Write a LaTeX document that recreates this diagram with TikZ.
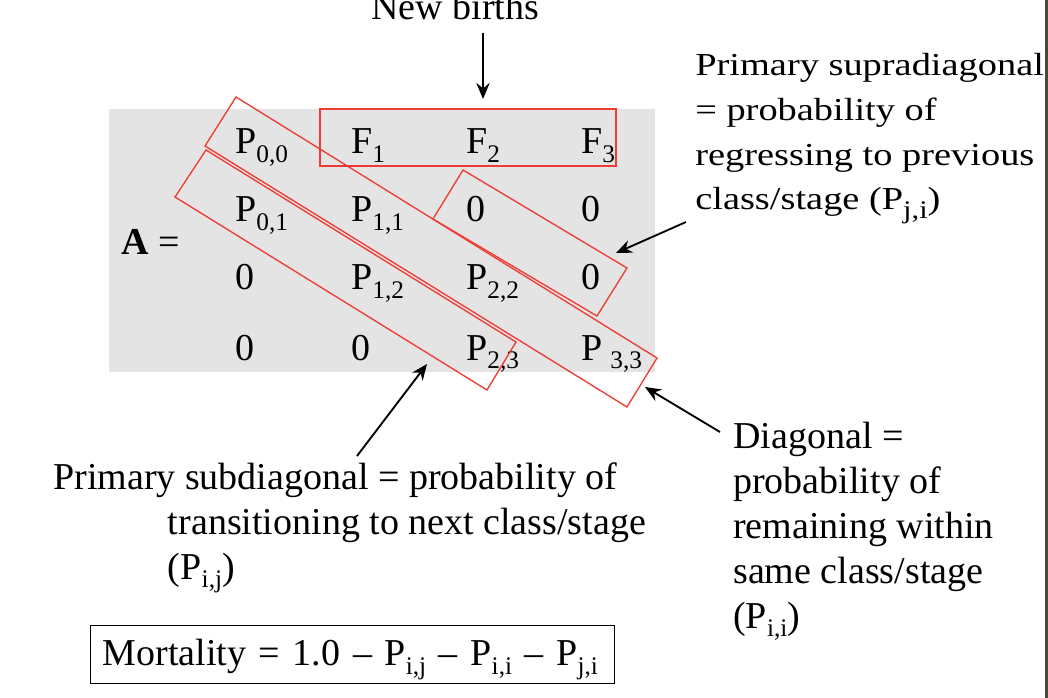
\documentclass[tikz,border=0pt]{standalone}
\usepackage{fontspec}
\setmainfont{Liberation Serif}
\newfontfamily\widefont[FakeStretch=1.2]{Liberation Serif}
\usetikzlibrary{arrows.meta}

\definecolor{boxred}{RGB}{240,58,52}
\definecolor{matgray}{RGB}{228,228,228}
\definecolor{photostrip}{RGB}{70,74,52}

\newcommand{\mainsize}{\fontsize{28.5}{33.75}\selectfont}
\newcommand{\widesize}{\widefont\fontsize{24}{33.5}\selectfont}
\newcommand{\lowsub}[1]{\raisebox{-6.5pt}{\fontsize{19}{19}\selectfont #1}}

\tikzset{
  entry/.style={anchor=base west, inner sep=0pt, font=\mainsize},
  note/.style={anchor=base west, inner sep=0pt, align=left, font=\mainsize},
  band/.style={draw=boxred, line width=1pt},
  pointer/.style={-{Stealth[length=12pt,width=10pt,inset=4pt]}, line width=1.4pt},
}

\begin{document}
\begin{tikzpicture}[x=0.75pt, y=-0.75pt]
    \useasboundingbox (0,0) rectangle (1048,698);
    \fill[photostrip] (1045,0) rectangle (1048,698);

    % Matrix background
    \fill[matgray] (109,109) rectangle (655,372);

    % Matrix entries
    \node[entry] (p00) at (235,154) {P\lowsub{0,0}};
    \node[entry] (f1)  at (351,154) {F\lowsub{1}};
    \node[entry] (f2)  at (466,154) {F\lowsub{2}};
    \node[entry] (f3)  at (581,154) {F\lowsub{3}};

    \node[entry] (p01) at (235,222) {P\lowsub{0,1}};
    \node[entry] (p11) at (351,222) {P\lowsub{1,1}};
    \node[entry] (z13) at (466,222) {0};
    \node[entry] (z14) at (581,222) {0};

    \node[entry] (z21) at (235,290) {0};
    \node[entry] (p12) at (351,290) {P\lowsub{1,2}};
    \node[entry] (p22) at (466,290) {P\lowsub{2,2}};
    \node[entry] (z24) at (581,290) {0};

    \node[entry] (z31) at (235,360) {0};
    \node[entry] (z32) at (351,360) {0};
    \node[entry] (p23) at (466,360) {P\lowsub{2,3}};
    \node[entry] (p33) at (581,360) {P\hspace{6pt}\lowsub{3,3}};

    \node[entry] (amat) at (121,255) {\textbf{A} =};

    % Red bands
    \draw[band] (320,109) rectangle (616,166);
    \draw[band] (236,97) -- (657,358) -- (627,407) -- (205,146) -- cycle;
    \draw[band] (206,150) -- (516,342) -- (487,390) -- (175,197) -- cycle;
    \draw[band] (463,170) -- (627,268) -- (597,316) -- (433,219) -- cycle;

    % Labels (anchored at the baseline of their last line)
    \node[entry] (births) at (371,20) {New births};
    \node[note, font=\widesize] (supra) at (695,210)
        {Primary supradiagonal\\= probability of\\regressing to previous\\class/stage (P\lowsub{j,i})};
    \node[note] (subdiag) at (53,579)
        {Primary subdiagonal = probability of\\
         \hspace*{86pt}transitioning to next class/stage\\
         \hspace*{86pt}(P\lowsub{i,j})};
    \node[note] (diag) at (733,628)
        {Diagonal =\\probability of\\remaining within\\same class/stage\\(P\lowsub{i,i})};

    % Mortality
    \node[draw, line width=0.9pt, anchor=north west, inner xsep=9pt, inner ysep=0pt,
          text width=375pt, text height=30pt, text depth=13.5pt, align=left,
          font=\mainsize] (mort) at (90,625)
        {Mortality = 1.0 -- P\lowsub{i,j} -- P\lowsub{i,i} -- P\lowsub{j,i}};

    % Arrow ends
    \coordinate (birthfrom) at (483,33);
    \coordinate (birthto)   at (483,99);
    \coordinate (suprafrom) at (686,222);
    \coordinate (suprato)   at (616,253);
    \coordinate (subfrom)   at (357,456);
    \coordinate (subto)     at (427,364);
    \coordinate (diagfrom)  at (720,432);
    \coordinate (diagto)    at (645,387);

    \draw[pointer] (birthfrom) -- (birthto);
    \draw[pointer] (suprafrom) -- (suprato);
    \draw[pointer] (subfrom) -- (subto);
    \draw[pointer] (diagfrom) -- (diagto);
\end{tikzpicture}
\end{document}
